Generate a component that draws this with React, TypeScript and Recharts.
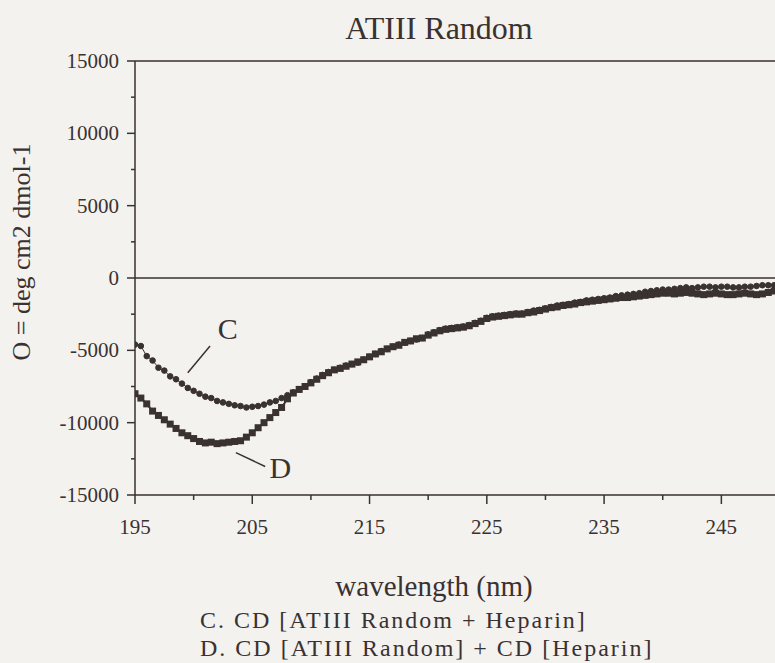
import { LineChart, Line, XAxis, YAxis, ReferenceLine, ReferenceDot } from 'recharts'

// wavelength (nm), 0.5 nm steps
const wavelength = [
  195, 195.5, 196, 196.5, 197, 197.5, 198, 198.5, 199, 199.5,
  200, 200.5, 201, 201.5, 202, 202.5, 203, 203.5, 204, 204.5,
  205, 205.5, 206, 206.5, 207, 207.5, 208, 208.5, 209, 209.5,
  210, 210.5, 211, 211.5, 212, 212.5, 213, 213.5, 214, 214.5,
  215, 215.5, 216, 216.5, 217, 217.5, 218, 218.5, 219, 219.5,
  220, 220.5, 221, 221.5, 222, 222.5, 223, 223.5, 224, 224.5,
  225, 225.5, 226, 226.5, 227, 227.5, 228, 228.5, 229, 229.5,
  230, 230.5, 231, 231.5, 232, 232.5, 233, 233.5, 234, 234.5,
  235, 235.5, 236, 236.5, 237, 237.5, 238, 238.5, 239, 239.5,
  240, 240.5, 241, 241.5, 242, 242.5, 243, 243.5, 244, 244.5,
  245, 245.5, 246, 246.5, 247, 247.5, 248, 248.5, 249, 249.5,
  250,
]

// C. CD [ATIII Random + Heparin]
const curveC = [
  -4600, -4700, -5400, -5700, -6200, -6400, -6800, -7000, -7300, -7600,
  -7800, -8000, -8200, -8300, -8500, -8600, -8700, -8800, -8850, -8950,
  -8900, -8850, -8750, -8600, -8500, -8300, -8100, -7900, -7700, -7500,
  -7200, -6950, -6700, -6500, -6350, -6200, -6050, -5950, -5850, -5650,
  -5450, -5250, -5050, -4900, -4750, -4600, -4450, -4350, -4250, -4150,
  -3900, -3750, -3600, -3500, -3450, -3400, -3350, -3250, -3100, -2950,
  -2750, -2650, -2600, -2550, -2500, -2450, -2450, -2350, -2250, -2200,
  -2100, -2000, -1900, -1850, -1800, -1700, -1650, -1550, -1500, -1450,
  -1400, -1350, -1250, -1200, -1150, -1100, -1050, -950, -900, -850,
  -800, -800, -750, -700, -650, -700, -650, -600, -600, -650,
  -600, -600, -650, -650, -600, -600, -550, -500, -500, -500,
  -550,
]

// D. CD [ATIII Random] + CD [Heparin]
const curveD = [
  -8000, -8300, -8700, -9200, -9500, -9800, -10100, -10400, -10700, -10900,
  -11100, -11300, -11400, -11350, -11450, -11400, -11350, -11300, -11250, -11000,
  -10700, -10350, -10000, -9650, -9300, -8950, -8350, -7950, -7700, -7500,
  -7250, -7000, -6750, -6550, -6350, -6250, -6100, -5950, -5800, -5650,
  -5450, -5250, -5100, -4900, -4750, -4650, -4450, -4350, -4200, -4150,
  -3950, -3800, -3650, -3550, -3500, -3450, -3400, -3300, -3150, -3000,
  -2800, -2700, -2650, -2600, -2550, -2500, -2500, -2400, -2350, -2250,
  -2150, -2050, -2000, -1900, -1850, -1800, -1700, -1650, -1600, -1550,
  -1500, -1450, -1400, -1350, -1350, -1300, -1250, -1200, -1150, -1100,
  -1050, -1050, -1100, -1050, -1000, -1050, -1100, -1150, -1100, -1050,
  -1100, -1150, -1150, -1100, -1050, -1100, -1150, -1100, -1000, -900,
  -850,
]

const xTicks = [195, 200, 205, 210, 215, 220, 225, 230, 235, 240, 245]
const xLabels = [195, 205, 215, 225, 235, 245]
const yTicks = [-15000, -12500, -10000, -7500, -5000, -2500, 0, 2500, 5000, 7500, 10000, 12500, 15000]
const yLabels = [-15000, -10000, -5000, 0, 5000, 10000, 15000]

const data = wavelength.map((w, i) => ({ w, c: curveC[i], d: curveD[i] }))

const ink = '#3a3131'
const font = '"Liberation Serif", serif'

const XTick = (p: any) => {
  const major = xLabels.includes(p.payload.value)
  return (
    <g>
      <line x1={p.x} x2={p.x} y1={p.y} y2={p.y + (major ? 9 : 5)} stroke={ink} strokeWidth={1.5} />
      {major && (
        <text x={p.x} y={p.y + 39} textAnchor="middle" fill={ink} fontSize={21} fontFamily={font}>
          {p.payload.value}
        </text>
      )}
    </g>
  )
}

const YTick = (p: any) => {
  const major = yLabels.includes(p.payload.value)
  return (
    <g>
      <line x1={p.x - (major ? 8 : 4)} x2={p.x} y1={p.y} y2={p.y} stroke={ink} strokeWidth={1.5} />
      {major && (
        <text x={p.x - 16} y={p.y + 7} textAnchor="end" fill={ink} fontSize={21} fontFamily={font}>
          {p.payload.value}
        </text>
      )}
    </g>
  )
}

const circleDot = (p: any) => (
  <circle key={`c${p.index}`} cx={p.cx} cy={p.cy} r={2.8} fill={ink} stroke={ink} strokeWidth={1} />
)
const squareDot = (p: any) => (
  <rect key={`d${p.index}`} x={p.cx - 3.5} y={p.cy - 3.5} width={7} height={7} fill={ink} />
)

const letter = { fill: ink, fontSize: 30, fontFamily: font, position: 'center' as const }

export default function App() {
  return (
    <div style={{ position: 'absolute', left: 0, top: 0, width: 775, height: 663, overflow: 'hidden', background: '#f3f2ef' }}>
      <LineChart width={780} height={663} data={data} margin={{ top: 61, right: 0, bottom: 0, left: 0 }}>
        <XAxis
          dataKey="w" type="number" domain={[195, 250]} ticks={xTicks} allowDataOverflow
          height={168} tickSize={0} tickMargin={0} tick={XTick}
          axisLine={{ stroke: ink, strokeWidth: 1.5 }} tickLine={false}
        />
        <YAxis
          type="number" domain={[-15000, 15000]} ticks={yTicks} allowDataOverflow
          width={135} tickSize={0} tickMargin={0} tick={YTick}
          axisLine={{ stroke: ink, strokeWidth: 1.5 }} tickLine={false}
        />
        <ReferenceLine y={15000} stroke={ink} strokeWidth={1.5} />
        <ReferenceLine y={0} stroke={ink} strokeWidth={1.5} />
        <Line dataKey="c" stroke={ink} strokeWidth={1} dot={circleDot} isAnimationActive={false} />
        <Line dataKey="d" stroke={ink} strokeWidth={2} dot={squareDot} isAnimationActive={false} />
        <ReferenceLine segment={[{ x: 199.5, y: -6550 }, { x: 201.4, y: -4700 }]} stroke={ink} strokeWidth={1.5} />
        <ReferenceLine segment={[{ x: 203.6, y: -12070 }, { x: 206.1, y: -13030 }]} stroke={ink} strokeWidth={1.5} />
        <ReferenceDot x={202.9} y={-3500} r={1} fill="none" stroke="none" label={{ value: 'C', ...letter }} />
        <ReferenceDot x={207.4} y={-13100} r={1} fill="none" stroke="none" label={{ value: 'D', ...letter }} />
      </LineChart>
      <svg width={775} height={663} style={{ position: 'absolute', left: 0, top: 0, pointerEvents: 'none' }}>
        <g fill={ink} fontFamily={font}>
          <text x={439} y={39} textAnchor="middle" fontSize={32}>ATIII Random</text>
          <text x={30} y={252} textAnchor="middle" fontSize={26} transform="rotate(-90 30 252)">O = deg cm2 dmol-1</text>
          <text x={434} y={596} textAnchor="middle" fontSize={29}>wavelength (nm)</text>
          <text x={200} y={628} fontSize={24} letterSpacing={2}>C. CD [ATIII Random + Heparin]</text>
          <text x={200} y={656} fontSize={24} letterSpacing={2}>D. CD [ATIII Random] + CD [Heparin]</text>
        </g>
      </svg>
    </div>
  )
}
